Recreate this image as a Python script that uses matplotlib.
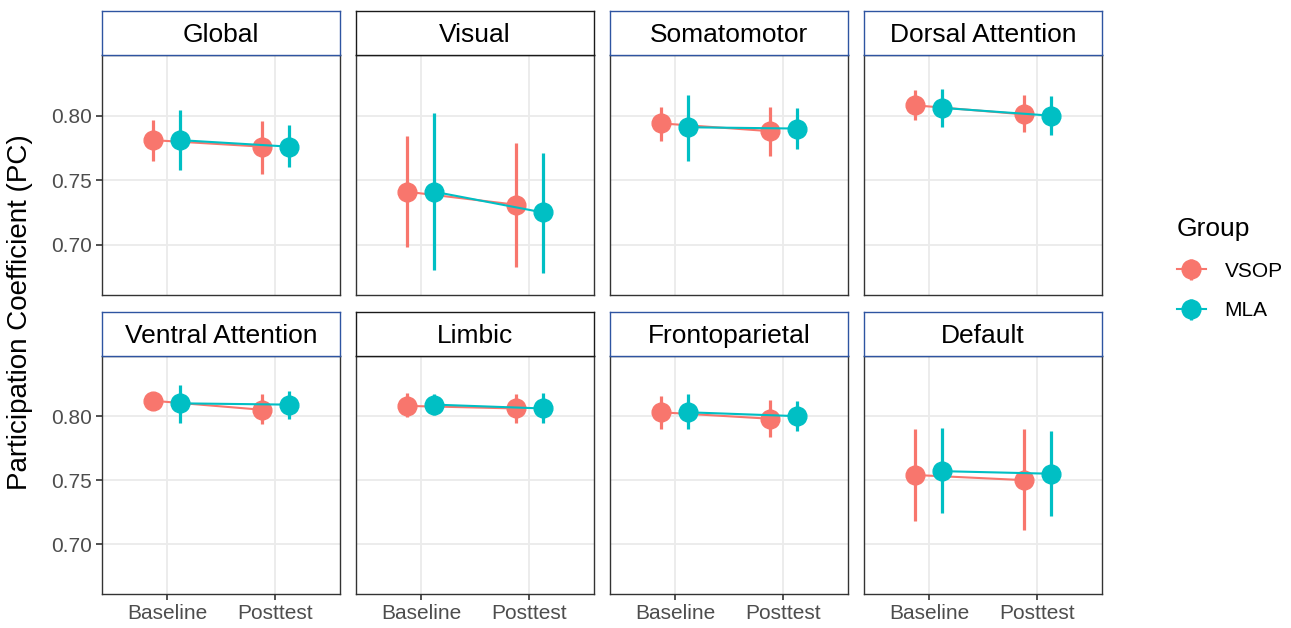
import numpy as np
import matplotlib.pyplot as plt

# network names and strip border colours (as in the reference)
networks = ["Global", "Visual", "Somatomotor", "Dorsal Attention",
            "Ventral Attention", "Limbic", "Frontoparietal", "Default"]
strip_edge = ["#2E54A1", "#1A1A1A", "#2E54A1", "#2E54A1",
              "#2E54A1", "#1A1A1A", "#2E54A1", "#2E54A1"]
timepoints = ["Baseline", "Posttest"]
groups = ["VSOP", "MLA"]

# mean PC, [baseline, posttest]
vsop_mean = [[0.781, 0.776], [0.741, 0.731], [0.794, 0.788], [0.808, 0.801],
             [0.812, 0.805], [0.808, 0.806], [0.803, 0.798], [0.754, 0.750]]
vsop_lo = [[0.765, 0.755], [0.698, 0.683], [0.780, 0.769], [0.797, 0.787],
           [0.805, 0.794], [0.799, 0.795], [0.790, 0.784], [0.718, 0.711]]
vsop_hi = [[0.797, 0.796], [0.784, 0.779], [0.807, 0.807], [0.820, 0.816],
           [0.819, 0.817], [0.818, 0.817], [0.816, 0.813], [0.790, 0.790]]

mla_mean = [[0.781, 0.776], [0.741, 0.725], [0.791, 0.790], [0.806, 0.800],
            [0.810, 0.809], [0.809, 0.806], [0.803, 0.800], [0.757, 0.755]]
mla_lo = [[0.758, 0.760], [0.680, 0.678], [0.765, 0.774], [0.791, 0.785],
          [0.795, 0.798], [0.801, 0.795], [0.790, 0.788], [0.724, 0.722]]
mla_hi = [[0.804, 0.793], [0.802, 0.771], [0.816, 0.806], [0.821, 0.815],
          [0.824, 0.820], [0.817, 0.818], [0.817, 0.812], [0.791, 0.788]]

colors = {"VSOP": "#F8766D", "MLA": "#00BFC4"}
dodge = {"VSOP": -0.125, "MLA": 0.125}

W, H = 1291, 628
plt.rcParams['font.family'] = ['Liberation Sans', 'DejaVu Sans']
fig = plt.figure(figsize=(W / 100, H / 100), dpi=100)

col_left = [102, 356, 610, 864]
pw = 238
rows = [(11, 55, 295), (312, 356, 594)]  # strip top, panel top, panel bottom

handles = []
for i, name in enumerate(networks):
    r, c = divmod(i, 4)
    st, pt, pb = rows[r]
    x0 = col_left[c]
    ax = fig.add_axes([x0 / W, 1 - pb / H, pw / W, (pb - pt) / H])
    sax = fig.add_axes([x0 / W, 1 - pt / H, pw / W, (pt - st) / H])

    # strip
    sax.set_xticks([])
    sax.set_yticks([])
    for s in sax.spines.values():
        s.set_color(strip_edge[i])
        s.set_linewidth(1.0)
    sax.text(0.5, 0.46, name, ha='center', va='center', fontsize=19,
             color='black', transform=sax.transAxes)

    xs = np.arange(len(timepoints)) + 1
    data = {"VSOP": (vsop_mean, vsop_lo, vsop_hi), "MLA": (mla_mean, mla_lo, mla_hi)}
    for g in groups:
        m, lo, hi = data[g]
        m = np.array(m[i])
        lo = np.array(lo[i])
        hi = np.array(hi[i])
        h = ax.errorbar(xs + dodge[g], m, yerr=[m - lo, hi - m], fmt='-o',
                        color=colors[g], ms=13.5, lw=1.5, elinewidth=2.3,
                        capsize=0, label=g, zorder=3)
        if i == 0:
            handles.append(h)

    ax.set_xlim(0.4, 2.6)
    ax.set_ylim(0.661, 0.847)
    ax.set_xticks(xs)
    ax.set_yticks([0.70, 0.75, 0.80])
    ax.grid(True, color='#EBEBEB', lw=1.3, zorder=0)
    ax.set_axisbelow(True)
    for s in ax.spines.values():
        s.set_color('#333333')
        s.set_linewidth(1.0)
    ax.tick_params(colors='#333333', labelcolor='#4D4D4D', labelsize=15,
                   length=4, width=1.2, pad=3)
    if r == 1:
        ax.set_xticklabels(timepoints)
    else:
        ax.set_xticklabels([])
        ax.tick_params(axis='x', length=0)
    if c == 0:
        ax.set_yticklabels(["0.70", "0.75", "0.80"])
    else:
        ax.set_yticklabels([])
        ax.tick_params(axis='y', length=0)

fig.text(20 / W, 1 - 312 / H, "Participation Coefficient (PC)", rotation=90,
         ha='center', va='center', fontsize=20)

leg = fig.legend(handles=handles, labels=groups, title="Group",
                 loc='upper left', bbox_to_anchor=(1158 / W, 1 - 198 / H),
                 frameon=False, fontsize=15, title_fontsize=19,
                 handlelength=1.4, handletextpad=0.9, labelspacing=1.0,
                 alignment='left')

fig.savefig("out.png", dpi=100)
